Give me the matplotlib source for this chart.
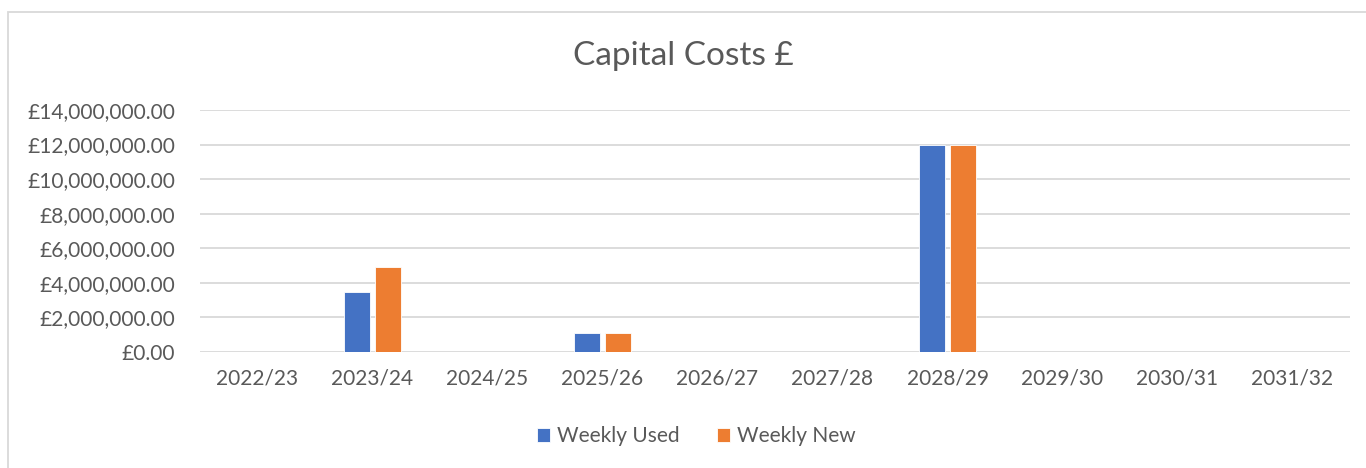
import matplotlib
matplotlib.use("Agg")
import matplotlib.pyplot as plt
import numpy as np
from matplotlib.patches import Rectangle
from matplotlib.ticker import FuncFormatter

years = ['2022/23', '2023/24', '2024/25', '2025/26', '2026/27',
         '2027/28', '2028/29', '2029/30', '2030/31', '2031/32']
weekly_used = [0, 3500000, 0, 1100000, 0, 0, 12000000, 0, 0, 0]
weekly_new = [0, 4900000, 0, 1100000, 0, 0, 12000000, 0, 0, 0]

plt.rcParams['font.family'] = ['Lato', 'DejaVu Sans']
text_col = '#595959'

fig = plt.figure(figsize=(13.66, 4.68), dpi=100)
# chart frame: only left and top edges fall inside the picture
fig.patches.append(Rectangle((8/1366, -0.05), 1.2, 1 - 11.5/468 + 0.05, transform=fig.transFigure,
                             fill=False, edgecolor='#D9D9D9', linewidth=1.3))
ax = fig.add_axes([200/1366, 1 - 352/468, 1150/1366, 242/468])

x = np.arange(len(years))
w = 0.226
ax.bar(x - 0.139, weekly_used, w, color='#4472C4', edgecolor='white', linewidth=0.6, label='Weekly Used', zorder=3)
ax.bar(x + 0.139, weekly_new, w, color='#ED7D31', edgecolor='white', linewidth=0.6, label='Weekly New', zorder=3)

ax.set_xlim(-0.5, len(years) - 0.5)
ax.set_ylim(0, 14000000)
ax.set_yticks(np.arange(0, 14000001, 2000000))
ax.yaxis.set_major_formatter(FuncFormatter(lambda v, p: '£{:,.2f}'.format(v)))
ax.set_xticks(x)
ax.set_xticklabels(years)
ax.grid(axis='y', color='#D9D9D9', linewidth=1.3, zorder=0)
for s in ax.spines.values():
    s.set_visible(False)
ax.tick_params(length=0, labelsize=15, colors=text_col, pad=18)
ax.tick_params(axis='x', pad=12)

fig.text(0.5, 1 - 56/468, 'Capital Costs £', ha='center', va='center', fontsize=24, color=text_col)

leg = ax.legend(loc='center', bbox_to_anchor=(0.5 + 13/1366, 1 - 436/468), bbox_transform=fig.transFigure,
                ncol=2, frameon=False, fontsize=15, handlelength=0.65, handleheight=0.65,
                handletextpad=0.3, columnspacing=1.8)
for t in leg.get_texts():
    t.set_color(text_col)

fig.savefig('out.png', dpi=100)
